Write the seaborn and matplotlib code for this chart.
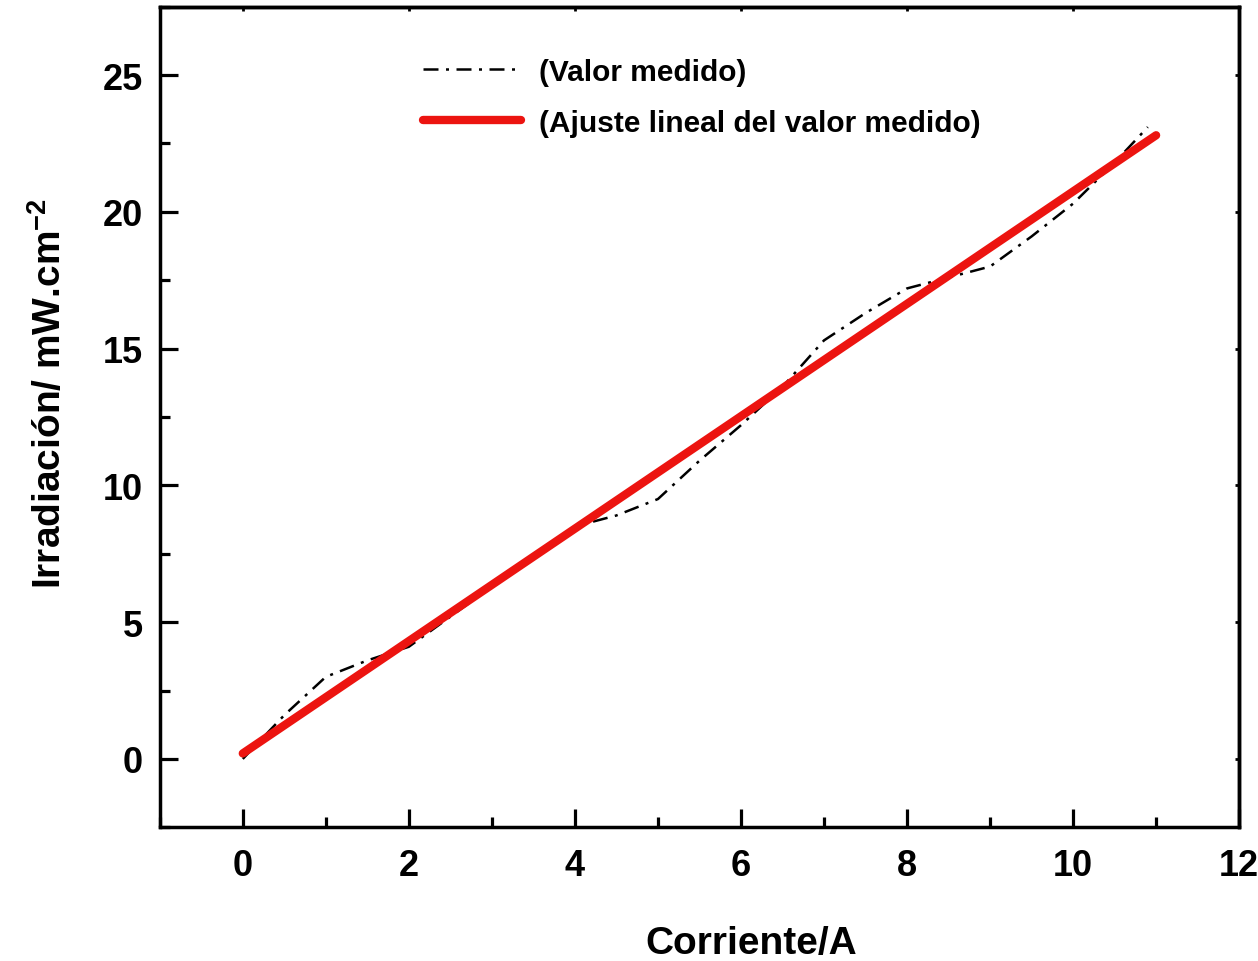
import numpy as np
import pandas as pd
import seaborn as sns
import matplotlib
matplotlib.use("Agg")
import matplotlib.pyplot as plt
from matplotlib.ticker import MultipleLocator

# Data
corriente_medida = [0, 0.5, 1, 1.5, 2, 3, 4, 4.5, 5, 5.5, 6, 6.5, 7, 7.5, 8, 8.5, 9, 9.5, 10, 10.5, 10.9]
irradiacion_medida = [0, 1.6, 3.0, 3.6, 4.1, 6.3, 8.5, 8.9, 9.5, 10.9, 12.2, 13.6, 15.3, 16.3, 17.2, 17.6, 18.0, 19.1, 20.3, 21.8, 23.1]
corriente_ajuste = [0, 11.0]
irradiacion_ajuste = [0.2, 22.8]

label_medido = "(Valor medido)"
label_ajuste = "(Ajuste lineal del valor medido)"

sns.set_theme(style="ticks")
plt.rcParams['font.family'] = ['Liberation Sans', 'DejaVu Sans']
plt.rcParams['font.weight'] = 'bold'
plt.rcParams['mathtext.fontset'] = 'custom'
plt.rcParams['mathtext.bf'] = 'Liberation Sans:bold'
plt.rcParams['mathtext.rm'] = 'Liberation Sans:bold'
for k in ['text.color', 'axes.labelcolor', 'xtick.color', 'ytick.color', 'axes.edgecolor']:
    plt.rcParams[k] = 'black'

fig = plt.figure(figsize=(12.58, 9.62), dpi=100)
ax = fig.add_axes([0.127, 0.139, 0.858, 0.853])

df_m = pd.DataFrame({"x": corriente_medida, "y": irradiacion_medida})
df_a = pd.DataFrame({"x": corriente_ajuste, "y": irradiacion_ajuste})

sns.lineplot(data=df_m, x="x", y="y", ax=ax, color="black", lw=1.8,
             linestyle=(0, (6, 3, 1.2, 3)), label=label_medido, sort=False)
sns.lineplot(data=df_a, x="x", y="y", ax=ax, color="#ec1410", lw=6,
             solid_capstyle="round", label=label_ajuste)

ax.set_xlim(-1, 12)
ax.set_ylim(-2.5, 27.5)
ax.xaxis.set_major_locator(MultipleLocator(2))
ax.xaxis.set_minor_locator(MultipleLocator(1))
ax.yaxis.set_major_locator(MultipleLocator(5))
ax.yaxis.set_minor_locator(MultipleLocator(2.5))

ax.tick_params(which="major", direction="in", length=13, width=2.3, labelsize=26)
ax.tick_params(which="minor", direction="in", length=7, width=2.3)
ax.tick_params(axis="x", which="major", pad=15)
ax.tick_params(axis="y", which="major", pad=12)
for lab in ax.get_xticklabels() + ax.get_yticklabels():
    lab.set_fontweight("bold")
for s in ax.spines.values():
    s.set_linewidth(2.5)
    s.set_color("black")

# tiny ticks on the opposite spines
sec_y = ax.secondary_yaxis("right")
sec_y.yaxis.set_major_locator(MultipleLocator(5))
sec_y.tick_params(direction="in", length=3, width=2, labelright=False)
sec_y.spines["right"].set_linewidth(2.5)
sec_x = ax.secondary_xaxis("top")
sec_x.xaxis.set_major_locator(MultipleLocator(2))
sec_x.tick_params(direction="in", length=3, width=2, labeltop=False)
sec_x.spines["top"].set_linewidth(2.5)

ax.set_xlabel("Corriente/A", fontsize=28, fontweight="bold")
ax.xaxis.set_label_coords(0.548, -0.119)
ax.set_ylabel("Irradiación/ mW.cm$^{\\mathbf{-2}}$", fontsize=28, fontweight="bold")
ax.yaxis.set_label_coords(-0.084, 0.53)

leg = ax.legend(loc="upper left", bbox_to_anchor=(0.2437, 0.938), frameon=False,
                borderaxespad=0, borderpad=0,
                handlelength=3.3, fontsize=21.5, labelspacing=0.77, handletextpad=0.6)
for t in leg.get_texts():
    t.set_fontweight("bold")

fig.savefig("out.png", dpi=100)
